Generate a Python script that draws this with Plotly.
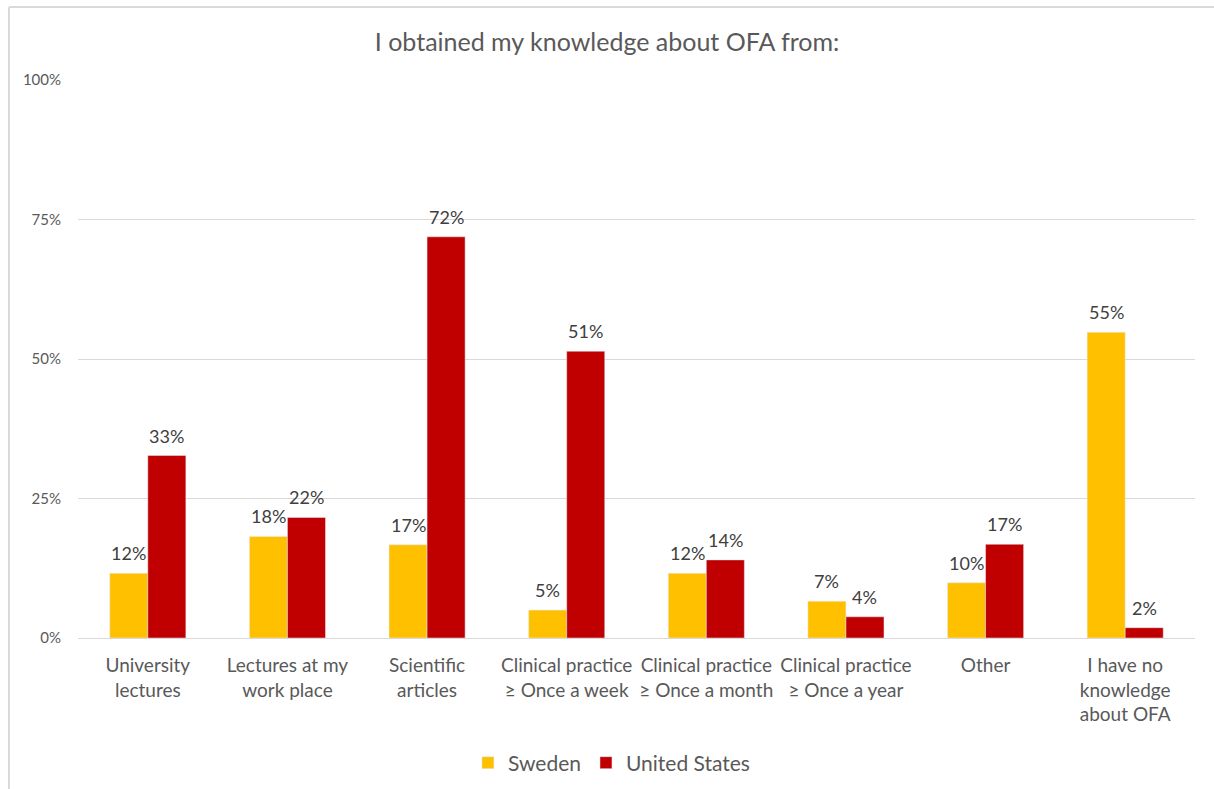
import plotly.graph_objects as go

categories = [
    "University<br>lectures",
    "Lectures at my<br>work place",
    "Scientific<br>articles",
    "Clinical practice<br>≥ Once a week",
    "Clinical practice<br>≥ Once a month",
    "Clinical practice<br>≥ Once a year",
    "Other",
    "I have no<br>knowledge<br>about OFA",
]
sweden = [0.116, 0.182, 0.167, 0.050, 0.116, 0.066, 0.099, 0.548]
united_states = [0.327, 0.216, 0.719, 0.514, 0.140, 0.038, 0.168, 0.0185]
tick_vals = [0, 0.25, 0.5, 0.75, 1.0]
tick_text = ["0%", "25%", "50%", "75%", "100%"]

FONT = "Lato, 'Open Sans', sans-serif"
TXT = "#595959"

fig = go.Figure()
fig.add_trace(go.Bar(name="Sweden", x=categories, y=sweden, marker_color="#FFC000"))
fig.add_trace(go.Bar(name="United States", x=categories, y=united_states, marker_color="#C00000"))

L, R, T, B = 78, 1195, 80, 638
W, H = 1214, 789
BAR_PX = (R - L) / len(categories) * (1 - 0.455) / 2

# data labels above each bar
for series, dx in ((sweden, -BAR_PX / 2), (united_states, BAR_PX / 2)):
    for cat, v in zip(categories, series):
        fig.add_annotation(x=cat, y=v, xref="x", yref="y", text=f"{round(v * 100)}%",
                           showarrow=False, xshift=dx, yshift=7, yanchor="bottom",
                           font=dict(size=18, color="#404040", family=FONT))

fig.update_layout(
    width=W, height=H,
    margin=dict(l=L, r=W - R, t=T, b=H - B, autoexpand=False),
    paper_bgcolor="white", plot_bgcolor="white",
    barmode="group", bargap=0.455, bargroupgap=0,
    font=dict(family=FONT, color=TXT),
    title=dict(text="I obtained my knowledge about OFA from:", x=0.5, xanchor="center",
               y=1 - 42 / H, yanchor="middle", font=dict(size=25, color=TXT, family=FONT)),
    legend=dict(orientation="h", x=0.478, xanchor="center", y=-(763 - B) / (B - T), yanchor="middle",
                font=dict(size=21, color=TXT, family=FONT), traceorder="normal",
                itemwidth=30),
    xaxis=dict(showline=True, linecolor="#d9d9d9", linewidth=1, ticks="", tickangle=0,
               automargin=False,
               tickfont=dict(size=19, color=TXT, family=FONT), ticklabelstandoff=10),
    yaxis=dict(range=[0, 1], tickvals=tick_vals, ticktext=tick_text, showgrid=True,
               gridcolor="#d9d9d9", gridwidth=1, zeroline=False, showline=False,
               automargin=False,
               tickfont=dict(size=15, color=TXT, family=FONT), ticklabelstandoff=16),
    showlegend=True,
)

# chart border (top and left edges visible)
px = lambda x: (x - L) / (R - L)
py = lambda y: (B - y) / (B - T)
fig.add_shape(type="line", xref="paper", yref="paper", x0=px(9), x1=px(1214), y0=py(7), y1=py(7),
              line=dict(color="#d9d9d9", width=2))
fig.add_shape(type="line", xref="paper", yref="paper", x0=px(9), x1=px(9), y0=py(7), y1=py(789),
              line=dict(color="#d9d9d9", width=2))

fig.write_html("out.html", config={"displayModeBar": False},
               post_script="document.body.style.margin='0';document.body.style.overflow='hidden';")
